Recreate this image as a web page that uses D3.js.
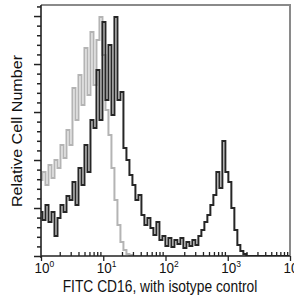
<!DOCTYPE html>
<html>
<head>
<meta charset="utf-8">
<script src="https://cdn.jsdelivr.net/npm/d3@7"></script>
<style>
  body { margin: 0; background: #fff; }
  text { font-family: 'Liberation Sans', Arial, sans-serif; fill: #111; }
</style>
</head>
<body>
<div id="chart"></div>
<script>
// fluorescence channel (FITC) of each histogram bin
const binValues = [
  1.000, 1.117, 1.248, 1.395, 1.558, 1.741, 1.945, 2.173, 2.428, 2.713,
  3.031, 3.386, 3.783, 4.227, 4.723, 5.277, 5.895, 6.587, 7.359, 8.222,
  9.186, 10.26, 11.47, 12.81, 14.31, 15.99, 17.87, 19.96, 22.30, 24.92,
  27.84, 31.10, 34.75, 38.83, 43.38, 48.47, 54.15, 60.50, 67.60, 75.53,
  84.38, 94.27, 105.3, 117.7, 131.5, 146.9, 164.1, 183.4, 204.9, 228.9,
  255.8, 285.7, 319.2, 356.7, 398.5, 445.2, 497.4, 555.8, 620.9, 693.7,
  775.1, 866.0, 967.5, 1081, 1208, 1350, 1508, 1685, 1882, 2103,
  2350, 2625, 2933, 3277, 3661, 4090, 4570, 5106, 5705, 6374,
  7121, 7956, 8889, 9931
]

// CD16 stained cells
const cd16Counts = [
  18.3, 15.0, 21.3, 14.2, 18.3, 8.3, 15.8, 21.3, 18.3, 25.0,
  23.3, 30.8, 21.3, 36.7, 29.6, 46.3, 35.0, 56.7, 53.3, 77.5,
  56.7, 97.5, 65.0, 87.9, 58.8, 99.6, 65.0, 68.3, 45.0, 40.0,
  33.8, 29.6, 23.3, 25.4, 17.1, 12.9, 15.8, 11.7, 8.8, 14.2,
  6.7, 8.3, 4.2, 7.5, 3.8, 6.7, 5.0, 7.5, 3.3, 5.8,
  4.2, 6.7, 4.6, 8.3, 10.8, 14.2, 17.1, 21.3, 25.4, 35.0,
  28.3, 47.9, 35.0, 30.8, 20.0, 10.8, 4.6, 2.1, 0.8, 0,
  0, 0, 0, 0, 0, 0, 0, 0, 0, 0,
  0, 0, 0, 0
]

// isotype control
const isotypeCounts = [
  31.7, 35.0, 29.6, 37.9, 32.5, 40.0, 36.7, 46.3, 40.8, 52.5,
  46.3, 70.0, 56.7, 75.4, 62.9, 86.7, 67.1, 93.3, 71.3, 90.0,
  99.6, 83.8, 60.8, 50.4, 36.7, 23.3, 12.9, 5.8, 2.5, 0.8,
  0.4, 0, 0, 0, 0, 0, 0, 0, 0, 0,
  0, 0, 0, 0, 0, 0, 0, 0, 0, 0,
  0, 0, 0, 0, 0, 0, 0, 0, 0, 0,
  0, 0, 0, 0, 0, 0, 0, 0, 0, 0,
  0, 0, 0, 0, 0, 0, 0, 0, 0, 0,
  0, 0, 0, 0
]

const xMajorTicks = [1, 10, 100, 1000, 10000]
const xTickExponents = ['0', '1', '2', '3', '4']
const yMajorTicks = [0, 20, 40, 60, 80, 100]
const yMinorTicks = [4, 8, 12, 16, 24, 28, 32, 36, 44, 48, 52, 56, 64, 68, 72, 76, 84, 88, 92, 96, 104]

const width = 294
const height = 302
const margin = { top: 5, right: 4, bottom: 46, left: 41 }

const x = d3.scaleLog()
  .domain([1, 10000])
  .range([margin.left, width - margin.right])

const y = d3.scaleLinear()
  .domain([0, 104.6])
  .range([height - margin.bottom, margin.top])

const svg = d3.select('#chart')
  .append('svg')
  .attr('width', width)
  .attr('height', height)

svg.append('defs')
  .append('clipPath')
  .attr('id', 'plot-clip')
  .append('rect')
  .attr('x', margin.left)
  .attr('y', margin.top - 1)
  .attr('width', width - margin.left - margin.right)
  .attr('height', height - margin.top - margin.bottom + 1)

const line = (counts) => d3.line()
  .x((d, i) => x(binValues[i]))
  .y((d) => y(d))
  .curve(d3.curveStep)(counts)

const plot = svg.append('g').attr('clip-path', 'url(#plot-clip)')

plot.append('path')
  .attr('d', line(isotypeCounts))
  .attr('fill', 'none')
  .attr('stroke', '#b4b4b4')
  .attr('stroke-width', 2)

plot.append('path')
  .attr('d', line(cd16Counts))
  .attr('fill', 'none')
  .attr('stroke', '#262626')
  .attr('stroke-width', 2)

// top and right frame
svg.append('path')
  .attr('d', `M${margin.left},${y(104.6)}H${x(10000)}V${y(0)}`)
  .attr('fill', 'none')
  .attr('stroke', '#8a8a8a')
  .attr('stroke-width', 2)

// y axis
const yAxis = svg.append('g').attr('transform', `translate(${margin.left},0)`)

yAxis.call(d3.axisLeft(y).tickValues(yMajorTicks).tickSize(7).tickFormat(''))
yAxis.call((g) => g.append('g')
  .call(d3.axisLeft(y).tickValues(yMinorTicks).tickSize(4).tickFormat('')))
yAxis.selectAll('.domain').remove()
yAxis.selectAll('line').attr('stroke', '#222').attr('stroke-width', 1.5)

svg.append('line')
  .attr('x1', margin.left).attr('x2', margin.left)
  .attr('y1', y(104.6)).attr('y2', y(0) + 2)
  .attr('stroke', '#222')
  .attr('stroke-width', 1.6)

// x axis
const xAxis = svg.append('g').attr('transform', `translate(0,${y(0)})`)

xAxis.call(d3.axisBottom(x).tickValues(xMajorTicks).tickSize(5).tickFormat(''))
xAxis.append('g')
  .call(d3.axisBottom(x)
    .tickValues(x.ticks().filter((t) => !xMajorTicks.includes(t)))
    .tickSize(-4)
    .tickFormat(''))
xAxis.selectAll('.domain').remove()
xAxis.selectAll('line').attr('stroke', '#222').attr('stroke-width', 1.3)

svg.append('line')
  .attr('x1', margin.left).attr('x2', x(10000))
  .attr('y1', y(0)).attr('y2', y(0))
  .attr('stroke', '#222')
  .attr('stroke-width', 1.6)

const tickLabels = svg.selectAll('.x-label')
  .data(xMajorTicks)
  .enter()
  .append('text')
  .attr('class', 'x-label')
  .attr('transform', (d) => `translate(${x(d) - 6.5},273) scale(1,1.15)`)
  .style('font-size', '13.5px')

tickLabels.append('tspan').text('10')

tickLabels.append('tspan')
  .attr('dy', -5.5)
  .style('font-size', '8.5px')
  .text((d, i) => xTickExponents[i])

svg.append('text')
  .attr('transform', 'translate(160,292) scale(1,1.15)')
  .attr('text-anchor', 'middle')
  .style('font-size', '13.8px')
  .text('FITC CD16, with isotype control')

svg.append('text')
  .attr('transform', 'translate(22,131) rotate(-90) scale(1.15,1)')
  .attr('text-anchor', 'middle')
  .style('font-size', '14px')
  .text('Relative Cell Number')
</script>
</body>
</html>
